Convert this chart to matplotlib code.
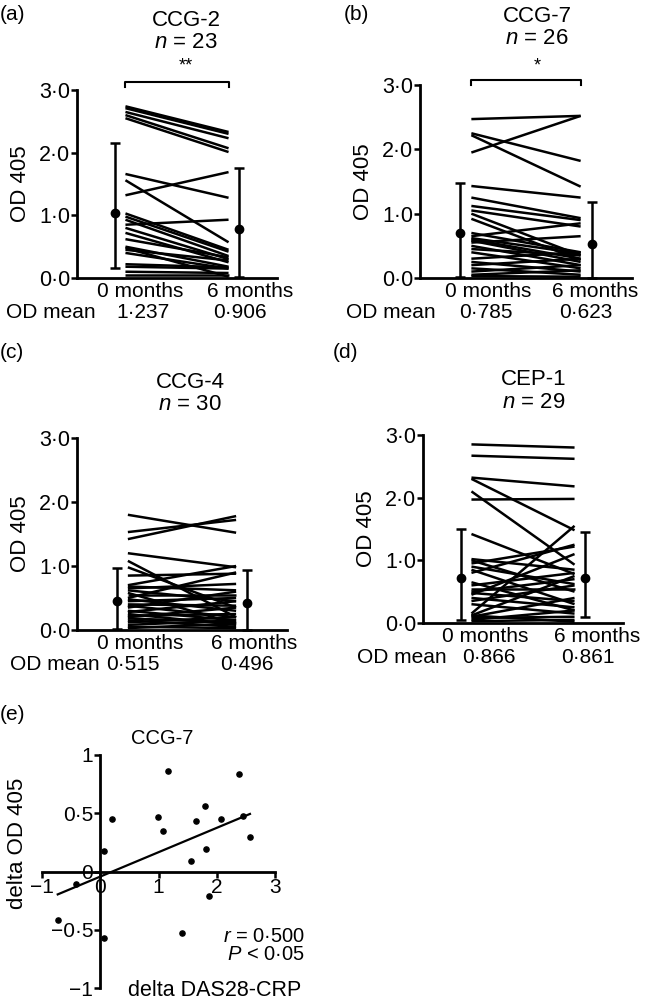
#!/usr/bin/env python3
"""Paired antibody OD plots (0 vs 6 months) + CCG-7 delta scatter"""
import numpy as np
import matplotlib
matplotlib.use('Agg')
import matplotlib.pyplot as plt

plt.rcParams['font.family'] = ['Liberation Sans', 'DejaVu Sans']
plt.rcParams['axes.linewidth'] = 2.0
plt.rcParams['mathtext.fontset'] = 'custom'
plt.rcParams['mathtext.it'] = 'Liberation Sans:italic'
plt.rcParams['mathtext.rm'] = 'Liberation Sans'

W, H = 646, 1006

# ---- data: OD 405 at 0 months / 6 months per patient ----
CCG2_0 = [2.74, 2.71, 2.65, 2.60, 2.55, 1.66, 1.32, 1.56, 1.03, 0.98, 0.93, 0.85,
          0.80, 0.72, 0.62, 0.50, 0.48, 0.45, 0.40, 0.22, 0.18, 0.10, 0.05]
CCG2_6 = [2.33, 2.30, 2.23, 2.07, 2.01, 1.28, 1.69, 0.57, 0.45, 0.42, 0.35, 0.93,
          0.30, 0.25, 0.33, 0.18, 0.02, 0.28, 0.15, 0.17, 0.15, 0.08, 0.05]

CCG7_0 = [2.47, 2.25, 2.22, 1.95, 1.43, 1.25, 1.12, 1.05, 1.00, 0.92, 0.70, 0.65, 0.62,
          0.60, 0.58, 0.55, 0.50, 0.45, 0.40, 0.30, 0.25, 0.20, 0.15, 0.10, 0.05, 0.03]
CCG7_6 = [2.52, 1.82, 1.42, 2.52, 1.25, 0.93, 0.90, 0.80, 0.35, 0.28, 0.40, 0.85, 0.38,
          0.30, 0.25, 0.65, 0.20, 0.35, 0.15, 0.40, 0.10, 0.30, 0.05, 0.20, 0.12, 0.02]

CCG4_0 = [1.80, 1.53, 1.42, 1.20, 1.08, 0.98, 0.85, 0.70, 0.68, 0.65, 0.62, 0.58, 0.55, 0.50, 0.48,
          0.45, 0.40, 0.38, 0.35, 0.30, 0.28, 0.25, 0.22, 0.20, 0.18, 0.15, 0.12, 0.08, 0.05, 0.03]
CCG4_6 = [1.52, 1.72, 1.78, 0.98, 0.20, 0.35, 0.88, 1.00, 0.62, 0.72, 0.45, 0.10, 0.55, 0.90, 0.30,
          0.50, 0.38, 0.20, 0.60, 0.15, 0.45, 0.08, 0.25, 0.35, 0.12, 0.05, 0.20, 0.15, 0.03, 0.10]

CEP1_0 = [2.85, 2.67, 2.32, 2.30, 2.10, 1.97, 1.42, 1.02, 1.00, 0.95, 0.90, 0.85, 0.80, 0.65, 0.60,
          0.55, 0.50, 0.48, 0.45, 0.40, 0.35, 0.30, 0.15, 0.12, 0.10, 0.08, 0.05, 0.12, 0.03]
CEP1_6 = [2.80, 2.62, 2.18, 1.48, 0.93, 1.98, 0.78, 0.85, 0.50, 1.22, 0.62, 0.30, 1.25, 0.20, 0.80,
          0.55, 0.70, 0.35, 1.10, 0.25, 0.60, 0.15, 1.55, 0.75, 0.40, 0.10, 0.20, 0.02, 0.05]

# (centre, low, high) of the summary error bars, 0 months then 6 months
CCG2_SUM = [(1.04, 0.16, 2.15), (0.78, 0.02, 1.75)]
CCG7_SUM = [(0.70, 0.02, 1.47), (0.53, 0.00, 1.18)]
CCG4_SUM = [(0.45, 0.02, 0.97), (0.42, 0.00, 0.93)]
CEP1_SUM = [(0.72, 0.05, 1.50), (0.72, 0.10, 1.45)]

OD_MEANS = {'CCG-2': ('1·237', '0·906'), 'CCG-7': ('0·785', '0·623'),
            'CCG-4': ('0·515', '0·496'), 'CEP-1': ('0·866', '0·861')}

TIMEPOINTS = ['0 months', '6 months']
Y_TICKS = [0, 1, 2, 3]
Y_TICKLABELS = ['0·0', '1·0', '2·0', '3·0']

# ---- data: CCG-7 delta DAS28-CRP vs delta OD 405 ----
DELTA_DAS = [-0.73, -0.41, 0.07, 0.21, 0.06, 0.99, 1.08, 1.17, 1.40, 1.55, 1.64, 1.80,
             1.81, 1.86, 2.07, 2.38, 2.45, 2.57]
DELTA_OD = [-0.42, -0.11, 0.18, 0.45, -0.57, 0.47, 0.35, 0.86, -0.53, 0.09, 0.43, 0.56,
            0.19, -0.21, 0.45, 0.84, 0.48, 0.30]


def fx(x): return x / W
def fy(y): return 1 - y / H


def paired_panel(fig, box, before, after, summ, title, letter, lay, star=None):
    l, t, r, b = box
    ax = fig.add_axes([fx(l), fy(b), fx(r - l), (b - t) / H])
    for y0, y1 in zip(before, after):
        ax.plot([0, 1], [y0, y1], color='black', lw=1.8, clip_on=False, solid_capstyle='butt')
    for xe, (c, lo, hi) in zip([-0.1, 1.1], summ):
        ax.errorbar([xe], [c], yerr=[[c - lo], [hi - c]], fmt='o', color='black', ms=6,
                    elinewidth=1.8, capsize=3.5, capthick=1.8, clip_on=False)
    ax.set_xlim(-0.47, 1.47); ax.set_ylim(0, 3)
    for s in ['top', 'right']: ax.spines[s].set_visible(False)
    ax.set_yticks(Y_TICKS); ax.set_yticklabels(Y_TICKLABELS)
    ax.set_xticks(lay['xt']); ax.set_xticklabels(TIMEPOINTS)
    ax.tick_params(axis='y', direction='out', length=4, width=1.8, labelsize=15.5, pad=1)
    ax.tick_params(axis='x', length=0, labelsize=15, pad=3)
    fig.text(fx(l - 56), fy((t + b) / 2), 'OD 405', rotation=90, ha='center', va='center', fontsize=16)
    # OD mean row
    mx = lay['mx']
    ax.annotate('OD mean', xy=(mx[0], 0), xycoords=('data', 'axes fraction'), xytext=(0, -25),
                textcoords='offset points', ha='right', va='center', fontsize=15)
    for xm, txt in zip(mx[1:], OD_MEANS[title]):
        ax.annotate(txt, xy=(xm, 0), xycoords=('data', 'axes fraction'), xytext=(0, -25),
                    textcoords='offset points', ha='center', va='center', fontsize=15)
    if star:
        by = lay['bracket']
        ax.plot([0, 0, 1, 1], [by - 0.08, by, by, by - 0.08], color='black', lw=1.5, clip_on=False)
        fig.text(fx(lay['tx']), fy(lay['star_y']), star, ha='center', va='center', fontsize=13)
    fig.text(fx(lay['tx']), fy(lay['ty']), title, ha='center', va='center', fontsize=16)
    fig.text(fx(lay['tx']), fy(lay['ty'] + 22), '$n$ = %d' % len(before), ha='center', va='center',
             fontsize=16)
    fig.text(fx(lay['lx']), fy(lay['ly']), letter, ha='left', va='center', fontsize=15)
    return ax


fig = plt.figure(figsize=(W / 100, H / 100), dpi=100)

paired_panel(fig, (77, 90, 277, 278), CCG2_0, CCG2_6, CCG2_SUM, 'CCG-2', '(a)',
             dict(tx=186, ty=20, star_y=66, bracket=3.13, lx=0, ly=15,
                  xt=[0.14, 1.21], mx=[-0.29, 0.17, 1.11]), star='**')
paired_panel(fig, (420, 85, 632, 278), CCG7_0, CCG7_6, CCG7_SUM, 'CCG-7', '(b)',
             dict(tx=537, ty=17, star_y=66, bracket=3.08, lx=344, ly=15,
                  xt=[0.15, 1.13], mx=[-0.33, 0.13, 1.05]), star='*')
paired_panel(fig, (77, 438, 287, 630), CCG4_0, CCG4_6, CCG4_SUM, 'CCG-4', '(c)',
             dict(tx=190, ty=383, lx=0, ly=353, xt=[0.11, 1.17], mx=[-0.26, 0.05, 1.10]))
paired_panel(fig, (423, 435, 623, 623), CEP1_0, CEP1_6, CEP1_SUM, 'CEP-1', '(d)',
             dict(tx=534, ty=380, lx=333, ly=353, xt=[0.13, 1.22], mx=[-0.24, 0.17, 1.13]))

# ---- (e) scatter ----
ax = fig.add_axes([fx(42), fy(988), fx(275 - 42), (988 - 755) / H])
ax.scatter(DELTA_DAS, DELTA_OD, s=14, color='black', zorder=3, clip_on=False)
slope, icpt = np.polyfit(DELTA_DAS, DELTA_OD, 1)
xl = np.array([min(DELTA_DAS), max(DELTA_DAS)])
ax.plot(xl, slope * xl + icpt, color='black', lw=1.6)
ax.set_xlim(-1, 3); ax.set_ylim(-1, 1)
ax.spines['left'].set_position(('data', 0))
ax.spines['bottom'].set_position(('data', 0))
for s in ['top', 'right']: ax.spines[s].set_visible(False)
ax.set_xticks([-1, 0, 1, 2, 3]); ax.set_xticklabels(['\u22121', '0', '1', '2', '3'])
ax.set_yticks([-1, -0.5, 0, 0.5, 1]); ax.set_yticklabels(['\u22121', '\u22120·5', '0', '0·5', '1'])
ax.tick_params(direction='out', length=4, width=1.8, labelsize=15, pad=1)
fig.text(fx(18), fy(843), 'delta OD 405', rotation=90, ha='center', va='center', fontsize=16)
fig.text(fx(215), fy(990), 'delta DAS28-CRP', ha='center', va='center', fontsize=15.5)
fig.text(fx(162), fy(738), 'CCG-7', ha='center', va='center', fontsize=14.5)
fig.text(fx(305), fy(936), '$r$ = 0·500', ha='right', va='center', fontsize=14.5)
fig.text(fx(305), fy(955), '$P$ < 0·05', ha='right', va='center', fontsize=14.5)
fig.text(fx(0), fy(715), '(e)', ha='left', va='center', fontsize=15)

fig.savefig('out.png', dpi=100)
